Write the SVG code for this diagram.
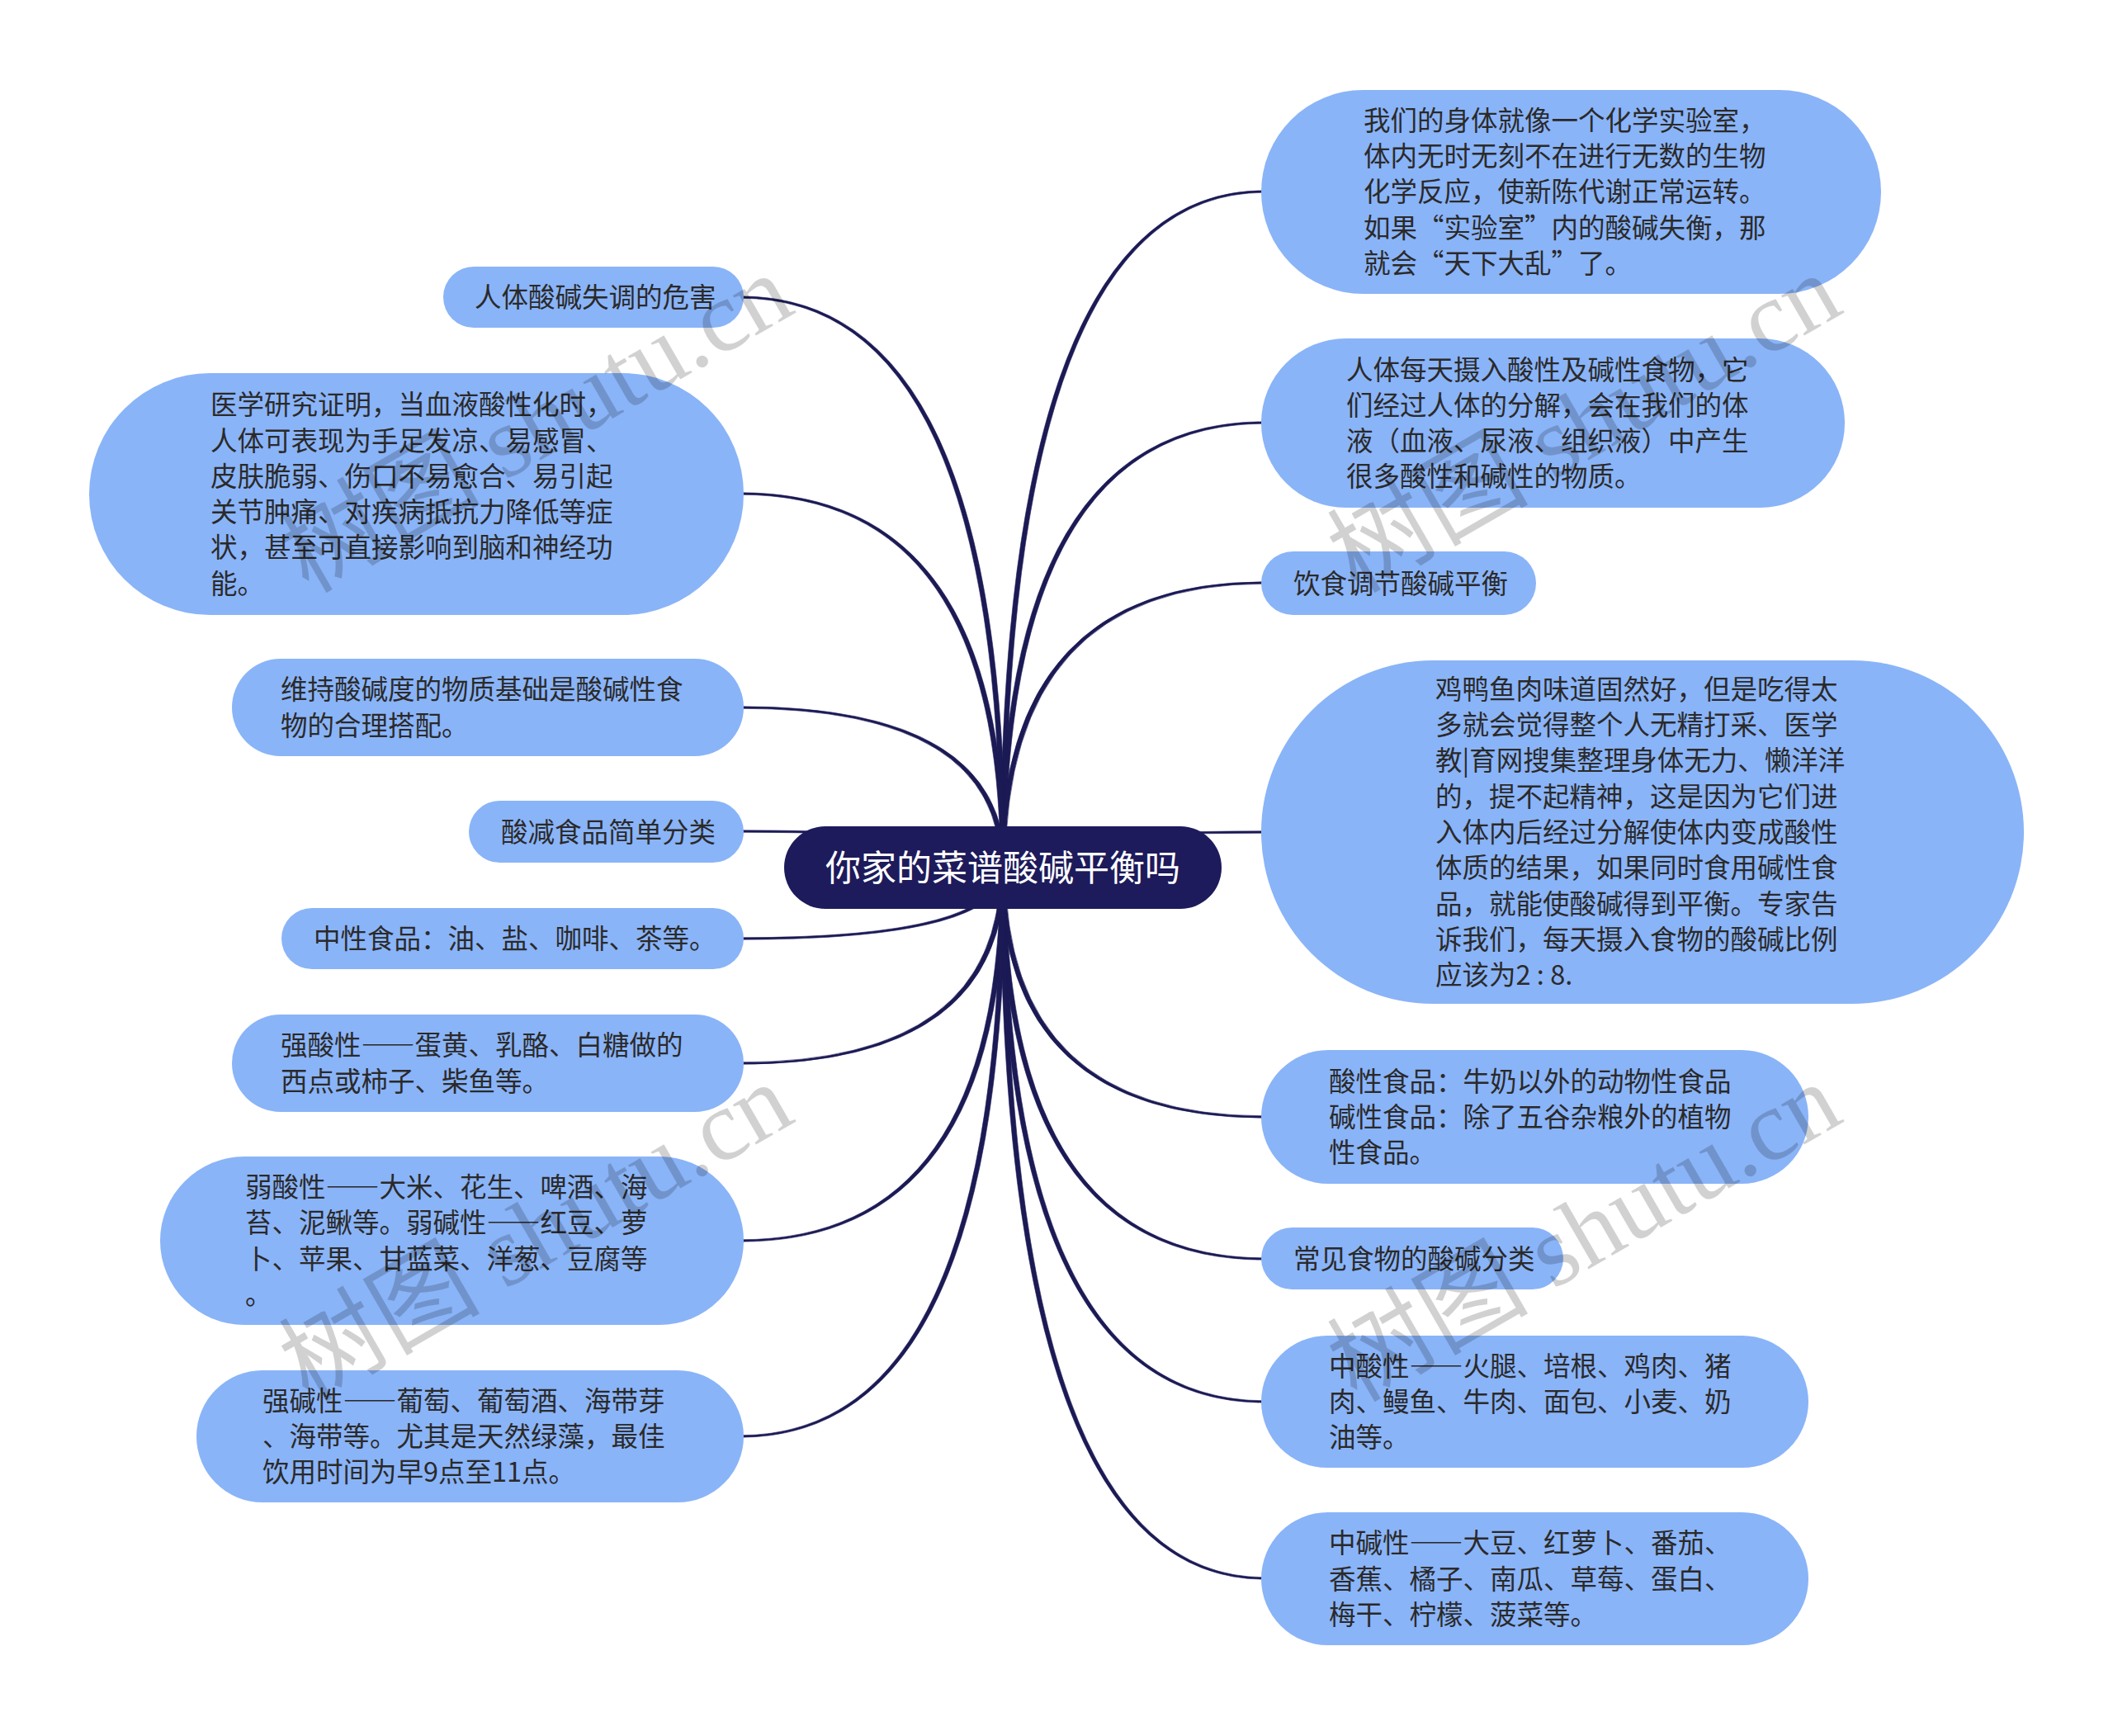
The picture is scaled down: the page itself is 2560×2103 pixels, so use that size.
<svg xmlns="http://www.w3.org/2000/svg" width="2560" height="2103" viewBox="0 0 2560 2103" xml:lang="zh-CN" lang="zh-CN">
<style>
.bg{fill:#ffffff}
.node rect{fill:#8ab4f8}
.root rect{fill:#1d1b5b}
.t{font-family:"Noto Sans CJK SC","Noto Sans",sans-serif;font-size:32.5px;fill:#2a2a2a}
.rt{font-family:"Noto Sans CJK SC","Noto Sans",sans-serif;font-size:43px;fill:#ffffff}
.conn path{fill:#1b1a55;stroke:#1b1a55;stroke-width:0.6}
.wm{font-family:"Liberation Serif","Noto Sans CJK SC",serif;font-size:122px;fill:#000000;fill-opacity:0.18}
</style>
<rect class="bg" x="0" y="0" width="2560" height="2103"/>
<g id="connectors" class="conn">
<path d="M1212 1051 Q1212 230.8 1532 230.8 L1532 233.2 Q1218 233.2 1218 1051 Z"/>
<path d="M1212 1051 Q1212 510.8 1532 510.8 L1532 513.2 Q1218 513.2 1218 1051 Z"/>
<path d="M1212 1051 Q1212 704.8 1532 704.8 L1532 707.2 Q1218 707.2 1218 1051 Z"/>
<path d="M1212 1051 Q1212 1006.8 1532 1006.8 L1532 1009.2 Q1218 1009.2 1218 1051 Z"/>
<path d="M1212 1051 Q1212 1354.2 1532 1354.2 L1532 1351.8 Q1218 1351.8 1218 1051 Z"/>
<path d="M1212 1051 Q1212 1526.2 1532 1526.2 L1532 1523.8 Q1218 1523.8 1218 1051 Z"/>
<path d="M1212 1051 Q1212 1699.2 1532 1699.2 L1532 1696.8 Q1218 1696.8 1218 1051 Z"/>
<path d="M1212 1051 Q1212 1913.2 1532 1913.2 L1532 1910.8 Q1218 1910.8 1218 1051 Z"/>
<path d="M1218 1051 Q1218 358.8 897 358.8 L897 361.2 Q1212 361.2 1212 1051 Z"/>
<path d="M1218 1051 Q1218 596.8 897 596.8 L897 599.2 Q1212 599.2 1212 1051 Z"/>
<path d="M1218 1051 Q1218 855.8 897 855.8 L897 858.2 Q1212 858.2 1212 1051 Z"/>
<path d="M1218 1051 Q1218 1005.8 897 1005.8 L897 1008.2 Q1212 1008.2 1212 1051 Z"/>
<path d="M1218 1051 Q1218 1138.2 897 1138.2 L897 1135.8 Q1212 1135.8 1212 1051 Z"/>
<path d="M1218 1051 Q1218 1289.2 897 1289.2 L897 1286.8 Q1212 1286.8 1212 1051 Z"/>
<path d="M1218 1051 Q1218 1504.2 897 1504.2 L897 1501.8 Q1212 1501.8 1212 1051 Z"/>
<path d="M1218 1051 Q1218 1741.2 897 1741.2 L897 1738.8 Q1212 1738.8 1212 1051 Z"/>
</g>
<g id="root" class="root">
<rect x="950" y="1001" width="530" height="100" rx="50" ry="50"/>
<text class="rt" x="1215" y="1067" text-anchor="middle">你家的菜谱酸碱平衡吗</text>
</g>
<g id="r1" class="node">
<rect x="1528" y="109" width="751" height="247" rx="123.5" ry="123.5"/>
<text class="t"><tspan x="1652" y="158">我们的身体就像一个化学实验室，</tspan><tspan x="1652" y="201">体内无时无刻不在进行无数的生物</tspan><tspan x="1652" y="244">化学反应，使新陈代谢正常运转。</tspan><tspan x="1652" y="288">如果“实验室”内的酸碱失衡，那</tspan><tspan x="1652" y="331">就会“天下大乱”了。</tspan></text>
</g>
<g id="r2" class="node">
<rect x="1528" y="410" width="707" height="205" rx="102.5" ry="102.5"/>
<text class="t"><tspan x="1631" y="460">人体每天摄入酸性及碱性食物，它</tspan><tspan x="1631" y="503">们经过人体的分解，会在我们的体</tspan><tspan x="1631" y="546">液（血液、尿液、组织液）中产生</tspan><tspan x="1631" y="589">很多酸性和碱性的物质。</tspan></text>
</g>
<g id="r3" class="node">
<rect x="1528" y="668" width="333" height="77" rx="38.5" ry="38.5"/>
<text class="t" x="1567" y="718.5">饮食调节酸碱平衡</text>
</g>
<g id="r4" class="node">
<rect x="1528" y="800" width="924" height="416" rx="208" ry="208"/>
<text class="t"><tspan x="1739" y="847">鸡鸭鱼肉味道固然好，但是吃得太</tspan><tspan x="1739" y="890">多就会觉得整个人无精打采、医学</tspan><tspan x="1739" y="933">教|育网搜集整理身体无力、懒洋洋</tspan><tspan x="1739" y="977">的，提不起精神，这是因为它们进</tspan><tspan x="1739" y="1020">入体内后经过分解使体内变成酸性</tspan><tspan x="1739" y="1063">体质的结果，如果同时食用碱性食</tspan><tspan x="1739" y="1107">品，就能使酸碱得到平衡。专家告</tspan><tspan x="1739" y="1150">诉我们，每天摄入食物的酸碱比例</tspan><tspan x="1739" y="1193">应该为2 : 8.</tspan></text>
</g>
<g id="r5" class="node">
<rect x="1528" y="1272" width="663" height="162" rx="81" ry="81"/>
<text class="t"><tspan x="1610" y="1322">酸性食品：牛奶以外的动物性食品</tspan><tspan x="1610" y="1365">碱性食品：除了五谷杂粮外的植物</tspan><tspan x="1610" y="1408">性食品。</tspan></text>
</g>
<g id="r6" class="node">
<rect x="1528" y="1487" width="366" height="75" rx="37.5" ry="37.5"/>
<text class="t" x="1567" y="1536.5">常见食物的酸碱分类</text>
</g>
<g id="r7" class="node">
<rect x="1528" y="1618" width="663" height="160" rx="80" ry="80"/>
<text class="t"><tspan x="1610" y="1667">中酸性——火腿、培根、鸡肉、猪</tspan><tspan x="1610" y="1710">肉、鳗鱼、牛肉、面包、小麦、奶</tspan><tspan x="1610" y="1753">油等。</tspan></text>
</g>
<g id="r8" class="node">
<rect x="1528" y="1832" width="663" height="161" rx="80.5" ry="80.5"/>
<text class="t"><tspan x="1610" y="1881">中碱性——大豆、红萝卜、番茄、</tspan><tspan x="1610" y="1924.5">香蕉、橘子、南瓜、草莓、蛋白、</tspan><tspan x="1610" y="1968">梅干、柠檬、菠菜等。</tspan></text>
</g>
<g id="l1" class="node">
<rect x="537" y="323" width="364" height="74" rx="37" ry="37"/>
<text class="t" x="575" y="372">人体酸碱失调的危害</text>
</g>
<g id="l2" class="node">
<rect x="108" y="452" width="793" height="293" rx="146.5" ry="146.5"/>
<text class="t"><tspan x="255" y="502">医学研究证明，当血液酸性化时，</tspan><tspan x="255" y="546">人体可表现为手足发凉、易感冒、</tspan><tspan x="255" y="589">皮肤脆弱、伤口不易愈合、易引起</tspan><tspan x="255" y="632">关节肿痛、对疾病抵抗力降低等症</tspan><tspan x="255" y="675">状，甚至可直接影响到脑和神经功</tspan><tspan x="255" y="719">能。</tspan></text>
</g>
<g id="l3" class="node">
<rect x="281" y="798" width="620" height="118" rx="59" ry="59"/>
<text class="t"><tspan x="340" y="847">维持酸碱度的物质基础是酸碱性食</tspan><tspan x="340" y="891">物的合理搭配。</tspan></text>
</g>
<g id="l4" class="node">
<rect x="568" y="970" width="333" height="75" rx="37.5" ry="37.5"/>
<text class="t" x="607" y="1019.5">酸减食品简单分类</text>
</g>
<g id="l5" class="node">
<rect x="341" y="1100" width="560" height="74" rx="37" ry="37"/>
<text class="t" x="380" y="1149">中性食品：油、盐、咖啡、茶等。</text>
</g>
<g id="l6" class="node">
<rect x="281" y="1229" width="620" height="118" rx="59" ry="59"/>
<text class="t"><tspan x="340" y="1278">强酸性——蛋黄、乳酪、白糖做的</tspan><tspan x="340" y="1322">西点或柿子、柴鱼等。</tspan></text>
</g>
<g id="l7" class="node">
<rect x="194" y="1401" width="707" height="204" rx="102" ry="102"/>
<text class="t"><tspan x="297" y="1450">弱酸性——大米、花生、啤酒、海</tspan><tspan x="297" y="1493">苔、泥鳅等。弱碱性——红豆、萝</tspan><tspan x="297" y="1537">卜、苹果、甘蓝菜、洋葱、豆腐等</tspan><tspan x="297" y="1580">。</tspan></text>
</g>
<g id="l8" class="node">
<rect x="238" y="1660" width="663" height="160" rx="80" ry="80"/>
<text class="t"><tspan x="318" y="1709">强碱性——葡萄、葡萄酒、海带芽</tspan><tspan x="318" y="1752">、海带等。尤其是天然绿藻，最佳</tspan><tspan x="318" y="1795">饮用时间为早9点至11点。</tspan></text>
</g>
<g id="watermarks">
<text class="wm" text-anchor="middle" transform="translate(650 514) rotate(-30)" y="40">树图 shutu.cn</text>
<text class="wm" text-anchor="middle" transform="translate(1920 514) rotate(-30)" y="40">树图 shutu.cn</text>
<text class="wm" text-anchor="middle" transform="translate(650 1494) rotate(-30)" y="40">树图 shutu.cn</text>
<text class="wm" text-anchor="middle" transform="translate(1920 1494) rotate(-30)" y="40">树图 shutu.cn</text>
</g>
</svg>
